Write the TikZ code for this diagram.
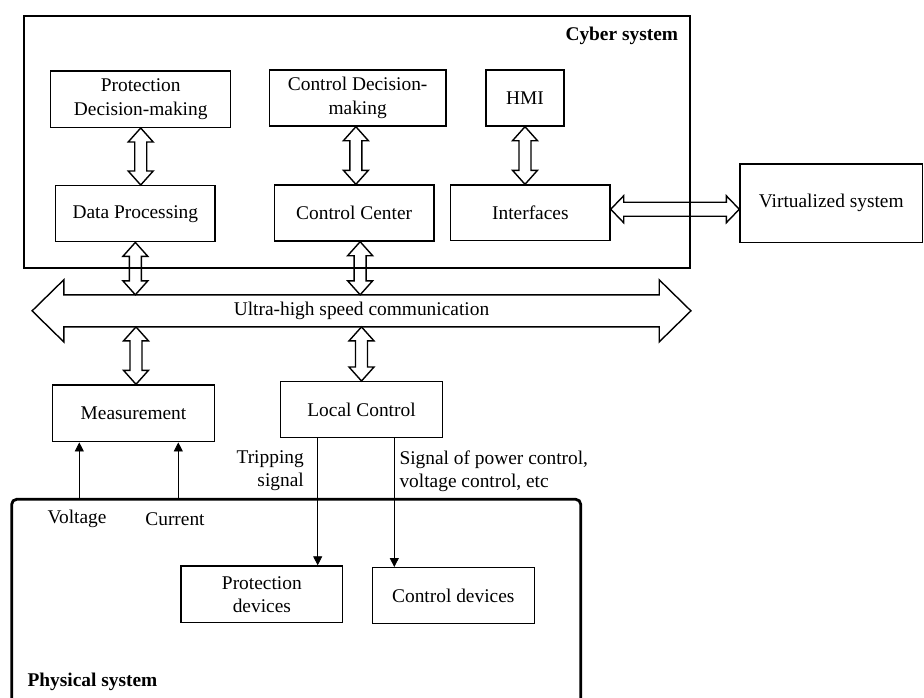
\documentclass[tikz,border=0pt]{standalone}
\usepackage{fontspec}
\setmainfont{Liberation Serif}
\usetikzlibrary{arrows.meta,calc}
\tikzset{
 blk/.style={draw, line width=1.4pt, inner sep=0pt, align=center},
 frame/.style={draw, line width=1.8pt, inner sep=0pt},
 dblar/.style={draw, line width=1.4pt, line join=miter},
 sig/.style={draw, line width=0.8pt, -{Triangle[length=9pt,width=9pt]}},
 lbl/.style={inner sep=0pt},
}
\newcommand\myvdbl[2]{%
 \path[dblar] let \p1=#1, \p2=#2 in
 (\x1,\y1) -- (\x1+12.5pt,\y1-14pt) -- (\x1+6pt,\y1-14pt) -- (\x1+6pt,\y2+14pt)
 -- (\x1+12.5pt,\y2+14pt) -- (\x1,\y2) -- (\x1-12.5pt,\y2+14pt) -- (\x1-6pt,\y2+14pt)
 -- (\x1-6pt,\y1-14pt) -- (\x1-12.5pt,\y1-14pt) -- cycle;}
\newcommand\myhdbl[2]{%
 \path[dblar] let \p1=#1, \p2=#2 in
 (\x1,\y1) -- (\x1+13pt,\y1+13.5pt) -- (\x1+13pt,\y1+7pt) -- (\x2-13pt,\y1+7pt)
 -- (\x2-13pt,\y1+13.5pt) -- (\x2,\y1) -- (\x2-13pt,\y1-13.5pt) -- (\x2-13pt,\y1-7pt)
 -- (\x1+13pt,\y1-7pt) -- (\x1+13pt,\y1-13.5pt) -- cycle;}
\begin{document}
\begin{tikzpicture}[x=1pt,y=-1pt,font=\fontsize{19.4}{23.3}\selectfont]
\useasboundingbox (0,0) rectangle (924,697);
% frames
\node[frame, minimum width=666pt, minimum height=252.6pt] (cyber) at (357,142) {};
\node[lbl, font=\fontsize{19.4}{23.3}\selectfont\bfseries, anchor=base east] (cyberlbl) at (678.3,40) {Cyber system};
\node[draw, line width=2.8pt, rounded corners=5pt, minimum width=569pt, minimum height=240.7pt, inner sep=0pt] (phys) at (296.2,619.65) {};
\node[lbl, font=\fontsize{19.4}{23.3}\selectfont\bfseries, anchor=base west] (physlbl) at (27.3,686) {Physical system};
% boxes
\node[blk, minimum width=180pt, minimum height=56.3pt] (pdm) at (140.7,99.15) {Protection\\Decision-making};
\node[blk, minimum width=176.7pt, minimum height=56pt] (cdm) at (357.65,98) {Control Decision-\\making};
\node[blk, minimum width=78pt, minimum height=56pt] (hmi) at (525,98) {HMI};
\node[blk, minimum width=159.3pt, minimum height=56pt] (dp) at (135.35,213.7) {Data Processing};
\node[blk, minimum width=159.7pt, minimum height=56pt] (cc) at (354.15,213) {Control Center};
\node[blk, minimum width=159.3pt, minimum height=55.5pt] (int) at (530.35,212.75) {Interfaces};
\node[blk, minimum width=182.5pt, minimum height=78.3pt] (virt) at (831.25,203.15) {Virtualized system};
\node[blk, minimum width=161.6pt, minimum height=56.7pt] (meas) at (133.5,413.35) {Measurement};
\node[blk, minimum width=161.6pt, minimum height=56pt] (lc) at (361.5,409.7) {Local Control};
\node[blk, minimum width=161.7pt, minimum height=56.7pt] (pd) at (261.85,594.35) {Protection\\devices};
\node[blk, minimum width=162pt, minimum height=56pt] (cd) at (453.3,595.7) {Control devices};
% communication bus
\node[lbl, minimum width=595pt, minimum height=31.7pt] (comm) at (361.5,310.85) {Ultra-high speed communication};
\draw[dblar] (comm.north west) -- ++(0,-15) -- ([xshift=-31.7pt]comm.west) -- ([yshift=-15pt]comm.south west)
  -- (comm.south west) -- (comm.south east) -- ++(0,15) -- ([xshift=31.7pt]comm.east)
  -- ([yshift=15pt]comm.north east) -- (comm.north east) -- cycle;
% block double arrows
\coordinate (cdmx) at ($(cdm.south)!0.5!(cc.north)$);
\coordinate (ccx) at ([xshift=6pt]cc.south);
\coordinate (mx) at ([xshift=2.5pt]meas.north);
\coordinate (ie) at ([yshift=3.5pt]int.east);
\myvdbl{(pdm.south)}{(pdm.south |- dp.north)}
\myvdbl{(cdmx |- cdm.south)}{(cdmx |- cc.north)}
\myvdbl{(hmi.south)}{(hmi.south |- int.north)}
\myvdbl{(dp.south)}{(dp.south |- comm.north)}
\myvdbl{(ccx)}{(ccx |- comm.north)}
\myvdbl{(mx |- comm.south)}{(mx)}
\myvdbl{(lc.north |- comm.south)}{(lc.north)}
\myhdbl{(ie)}{(ie -| virt.west)}
% signal arrows
\coordinate (vx) at ([xshift=27.3pt]meas.south west);
\coordinate (cx) at ([xshift=126.3pt]meas.south west);
\coordinate (tx) at ([xshift=-25.7pt]pd.north east);
\coordinate (kx) at ([xshift=22.7pt]cd.north west);
\draw[sig] (vx |- phys.north) -- (vx);
\draw[sig] (cx |- phys.north) -- (cx);
\draw[sig] (tx |- lc.south) -- (tx);
\draw[sig] (kx |- lc.south) -- (kx);
% labels
\node[lbl, align=right, anchor=east] (trip) at (304,471) {Tripping\\signal};
\node[lbl, align=left, anchor=west] (sigl) at (399.3,471) {Signal of power control,\\voltage control, etc};
\node[lbl] (volt) at (77,519) {Voltage};
\node[lbl] (curr) at (175,519) {Current};
\end{tikzpicture}
\end{document}
